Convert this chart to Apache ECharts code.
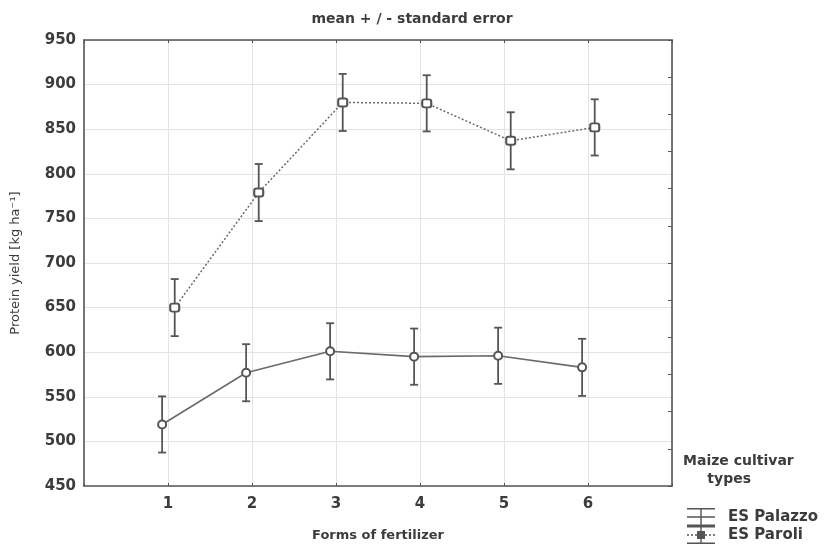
<!DOCTYPE html>
<html>
<head>
<meta charset="utf-8">
<script src="https://cdn.jsdelivr.net/npm/echarts@6/dist/echarts.min.js"></script>
<style>
html,body{margin:0;padding:0;background:#fff;}
#chart{width:824px;height:547px;}
</style>
</head>
<body>
<div id="chart"></div>
<script>
// ---- data ----
const fertilizerForms = [1, 2, 3, 4, 5, 6];
const palazzoMean = [519, 577, 601, 595, 596, 583];
const palazzoSE   = [31.5, 32, 31.5, 31.5, 31.5, 32];
const paroliMean  = [650, 779, 880, 879, 837, 852];
const paroliSE    = [32, 32, 32, 31.5, 32, 31.5];
const yTicks = [450, 500, 550, 600, 650, 700, 750, 800, 850, 900, 950];
const seriesNames = ['ES Palazzo', 'ES Paroli'];

// ---- styling ----
const FONT = 'DejaVu Sans';
const TEXT = '#3c3c3c';
const AXIS = '#555';
const LINE = '#6a6a6a';
const ERR = '#555';
const OFFSET = { 'ES Palazzo': -0.07, 'ES Paroli': 0.08 };

function pts(mean, name) {
  return fertilizerForms.map((f, i) => [f + OFFSET[name], mean[i]]);
}
function errs(mean, se, name) {
  return fertilizerForms.map((f, i) => [f + OFFSET[name], mean[i] - se[i], mean[i] + se[i]]);
}
function renderErr(params, api) {
  const x = api.value(0);
  const lo = api.coord([x, api.value(1)]);
  const hi = api.coord([x, api.value(2)]);
  const w = 4;
  const style = { stroke: ERR, lineWidth: 1.8, fill: null };
  return {
    type: 'group',
    children: [
      { type: 'line', shape: { x1: lo[0], y1: lo[1], x2: hi[0], y2: hi[1] }, style },
      { type: 'line', shape: { x1: lo[0] - w, y1: lo[1], x2: lo[0] + w, y2: lo[1] }, style },
      { type: 'line', shape: { x1: hi[0] - w, y1: hi[1], x2: hi[0] + w, y2: hi[1] }, style }
    ]
  };
}

// legend icons (28 x 18 box): caps, stem, centre line
const iconSolid = 'path://M0,0 L28,0 L28,1.4 L0,1.4 Z M0,8.3 L28,8.3 L28,9.7 L0,9.7 Z M0,16.6 L28,16.6 L28,18 L0,18 Z M13.3,0 L14.7,0 L14.7,18 L13.3,18 Z';
const iconDotted = 'path://M0,0 L28,0 L28,1.4 L0,1.4 Z M0,8.3 L2,8.3 L2,9.7 L0,9.7 Z M4,8.3 L6,8.3 L6,9.7 L4,9.7 Z M8,8.3 L10,8.3 L10,9.7 L8,9.7 Z M18,8.3 L20,8.3 L20,9.7 L18,9.7 Z M22,8.3 L24,8.3 L24,9.7 L22,9.7 Z M26,8.3 L28,8.3 L28,9.7 L26,9.7 Z M10,5 L18,5 L18,13 L10,13 Z M0,16.6 L28,16.6 L28,18 L0,18 Z M13.3,0 L14.7,0 L14.7,18 L13.3,18 Z';

const chart = echarts.init(document.getElementById('chart'), null, { renderer: 'canvas' });
chart.setOption({
  backgroundColor: '#fff',
  animation: false,
  textStyle: { fontFamily: FONT },
  title: {
    text: 'mean + / - standard error',
    left: 'center',
    top: 7,
    textStyle: { fontFamily: FONT, fontSize: 14, fontWeight: 'bold', color: TEXT }
  },
  grid: { left: 84, right: 152, top: 40, bottom: 57, containLabel: false },
  xAxis: [{
    type: 'value',
    min: 0, max: 7, interval: 1,
    name: 'Forms of fertilizer',
    nameLocation: 'middle',
    nameGap: 43,
    nameTextStyle: { fontFamily: FONT, fontSize: 13, fontWeight: 'bold', color: TEXT },
    axisLine: { show: true, onZero: false, lineStyle: { color: AXIS, width: 1.6 } },
    axisTick: { show: true, inside: true, length: 3, lineStyle: { color: AXIS } },
    axisLabel: {
      margin: 11, fontFamily: FONT, fontSize: 15, fontWeight: 'bold', color: TEXT,
      formatter: v => (fertilizerForms.indexOf(v) >= 0 ? String(v) : '')
    },
    splitLine: { show: true, lineStyle: { color: '#e4e4e4', width: 1 } }
  }, {
    type: 'value',
    position: 'top',
    min: 0, max: 7, interval: 1,
    axisLine: { show: true, onZero: false, lineStyle: { color: AXIS, width: 1.6 } },
    axisTick: { show: true, inside: true, length: 3, lineStyle: { color: AXIS } },
    axisLabel: { show: false },
    splitLine: { show: false }
  }],
  yAxis: [{
    type: 'value',
    min: yTicks[0], max: yTicks[yTicks.length - 1], interval: 50,
    name: 'Protein yield [kg ha\u207B\u00B9]',
    nameLocation: 'middle',
    nameGap: 62,
    nameRotate: 90,
    nameTextStyle: { fontFamily: FONT, fontSize: 13, color: TEXT },
    axisLine: { show: true, onZero: false, lineStyle: { color: AXIS, width: 1.6 } },
    axisTick: { show: false },
    axisLabel: { margin: 8, fontFamily: FONT, fontSize: 15, fontWeight: 'bold', color: TEXT },
    splitLine: { show: true, lineStyle: { color: '#e4e4e4', width: 1 } }
  }, {
    type: 'value',
    position: 'right',
    min: 0, max: 12, interval: 1,
    axisLine: { show: true, onZero: false, lineStyle: { color: AXIS, width: 1.6 } },
    axisTick: { show: true, inside: true, length: 4, lineStyle: { color: AXIS } },
    axisLabel: { show: false },
    splitLine: { show: false }
  }],
  legend: {
    orient: 'vertical',
    left: 687,
    top: 508,
    padding: 0,
    itemWidth: 28,
    itemHeight: 18,
    itemGap: 0,
    selectedMode: false,
    textStyle: { fontFamily: FONT, fontSize: 15, fontWeight: 'bold', color: TEXT, padding: [0, 0, 0, 8] },
    data: [
      { name: seriesNames[0], icon: iconSolid, itemStyle: { color: '#555', borderWidth: 0 } },
      { name: seriesNames[1], icon: iconDotted, itemStyle: { color: '#555', borderWidth: 0 } }
    ]
  },
  graphic: [{
    type: 'text',
    left: 683,
    top: 452,
    style: {
      text: 'Maize cultivar\n     types',
      font: 'bold 14px "DejaVu Sans"',
      fill: TEXT,
      lineHeight: 18
    }
  }],
  series: [
    {
      name: seriesNames[0] + ' SE', type: 'custom', renderItem: renderErr,
      data: errs(palazzoMean, palazzoSE, seriesNames[0]),
      encode: { x: 0, y: [1, 2] }, z: 2, silent: true
    },
    {
      name: seriesNames[1] + ' SE', type: 'custom', renderItem: renderErr,
      data: errs(paroliMean, paroliSE, seriesNames[1]),
      encode: { x: 0, y: [1, 2] }, z: 2, silent: true
    },
    {
      name: seriesNames[0], type: 'line',
      data: pts(palazzoMean, seriesNames[0]),
      symbol: 'emptyCircle', symbolSize: 8,
      lineStyle: { color: LINE, width: 1.6, type: 'solid' },
      itemStyle: { color: '#555', borderWidth: 1.3 },
      z: 3
    },
    {
      name: seriesNames[1], type: 'line',
      data: pts(paroliMean, seriesNames[1]),
      symbol: 'emptyRoundRect', symbolSize: [9, 8],
      lineStyle: { color: LINE, width: 1.5, type: [2, 2] },
      itemStyle: { color: '#555', borderWidth: 1.3 },
      z: 3
    }
  ]
});
</script>
</body>
</html>
